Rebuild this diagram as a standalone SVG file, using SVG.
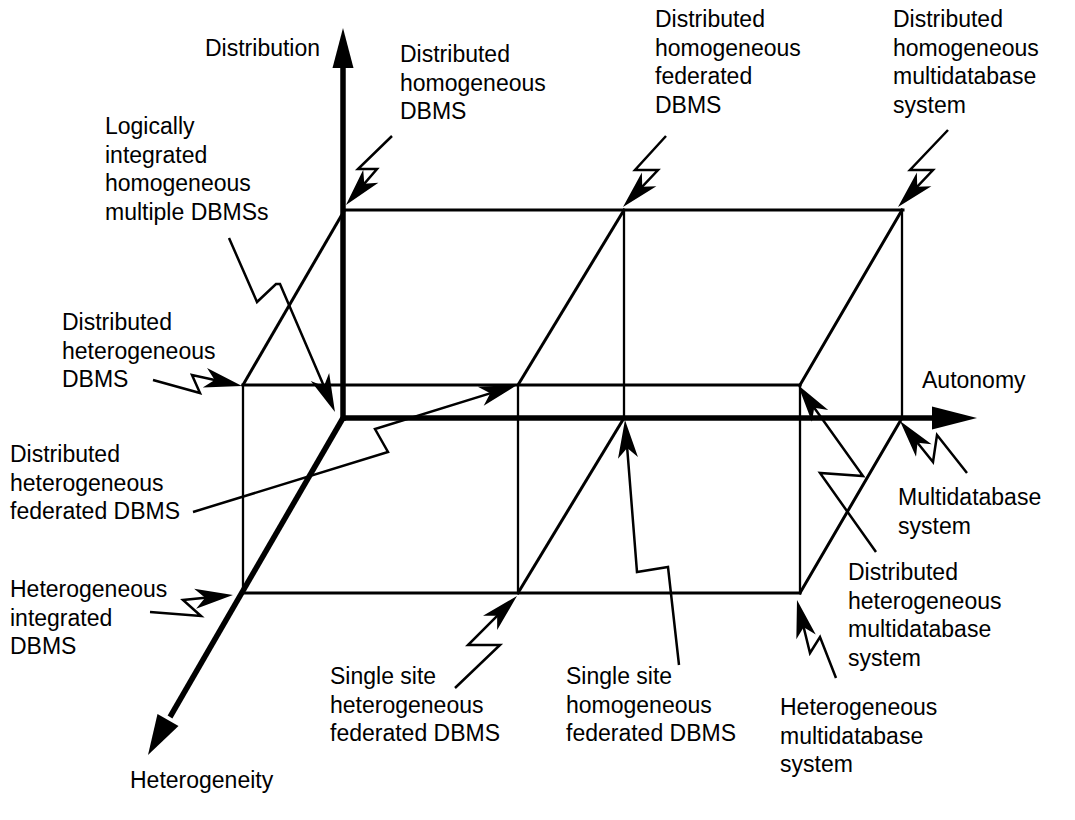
<svg xmlns="http://www.w3.org/2000/svg" width="1075" height="820" viewBox="0 0 1075 820">
<defs>
<style>
text{font-family:"Liberation Sans",Arial,Helvetica,sans-serif;font-size:23px;fill:#000}
.ax{stroke:#000;stroke-width:5.5;fill:none}
.bx{stroke:#000;stroke-width:3;fill:none;stroke-linecap:square}
.vt{stroke:#000;stroke-width:2.3;fill:none}
.zz{stroke:#000;stroke-width:2.5;fill:none;stroke-linejoin:miter}
.head{fill:#000;stroke:none}
</style>
<marker id="ah" markerUnits="userSpaceOnUse" viewBox="-40 -12 42 24" markerWidth="42" markerHeight="24" refX="-8" refY="0" orient="auto" overflow="visible">
<path d="M0,0 L-38,-10 L-28,0 L-38,10 Z" fill="#000"/>
</marker>
</defs>
<rect width="1075" height="820" fill="#fff"/>

<g id="cube">
<line class="bx" x1="343" y1="210" x2="903" y2="210"/>
<line class="bx" x1="243" y1="385" x2="800" y2="385"/>
<line class="bx" x1="243" y1="593" x2="800" y2="593"/>
<line class="vt" x1="243" y1="385" x2="243" y2="593"/>
<line class="vt" x1="518" y1="385" x2="518" y2="593"/>
<line class="vt" x1="800" y1="385" x2="800" y2="593"/>
<line class="vt" x1="624" y1="210" x2="624" y2="418"/>
<line class="vt" x1="902" y1="210" x2="902" y2="418"/>
<line class="bx" x1="243" y1="385" x2="344" y2="211"/>
<line class="bx" x1="518" y1="385" x2="624" y2="210"/>
<line class="bx" x1="800" y1="385" x2="902" y2="210"/>
<line class="bx" x1="518" y1="593" x2="624" y2="418"/>
<line class="bx" x1="800" y1="593" x2="902" y2="418"/>
</g>

<g id="axes">
<line class="ax" x1="343" y1="421" x2="343" y2="66"/>
<polygon class="head" points="343,28 332.5,68 353.5,68"/>
<line class="ax" x1="341" y1="418" x2="934" y2="418"/>
<polygon class="head" points="977,418 932,406.5 932,429.5"/>
<line class="ax" x1="343" y1="418" x2="170" y2="717"/>
<polygon class="head" points="148,755 178.5,726 157.5,714"/>
</g>

<g id="connectors">
<polyline class="zz" marker-end="url(#ah)" points="392,136 358,169 377,169 351.2,198.9"/>
<polyline class="zz" marker-end="url(#ah)" points="666,136 635,170 658,170 628.5,201.2"/>
<polyline class="zz" marker-end="url(#ah)" points="948,130 910,170 933,170 903.5,201.2"/>
<polyline class="zz" marker-end="url(#ah)" points="229,238 257,302 276,284 280,284 331.8,404.6"/>
<polyline class="zz" marker-end="url(#ah)" points="153,380 200,393 192,375 234.2,384.3"/>
<polyline class="zz" marker-end="url(#ah)" points="193,512 388,452 375,429 509.4,387.4"/>
<polyline class="zz" marker-end="url(#ah)" points="150,612 201,616 183,600 225,595.8"/>
<polyline class="zz" marker-end="url(#ah)" points="455,688 500,645 468,645 511.3,601.7"/>
<polyline class="zz" marker-end="url(#ah)" points="679,665 668,567 637,572 625.6,428"/>
<polyline class="zz" marker-end="url(#ah)" points="876,552 820,473 863,476 802.6,391.5"/>
<polyline class="zz" marker-end="url(#ah)" points="967,473 937,435 933,462 905,427.2"/>
<polyline class="zz" marker-end="url(#ah)" points="836,678 820,637 810,653 798.9,607.8"/>
</g>

<g id="label-distribution"><text x="205" y="56">Distribution</text></g>
<g id="label-autonomy"><text x="922" y="388">Autonomy</text></g>
<g id="label-heterogeneity"><text x="130" y="788">Heterogeneity</text></g>

<g id="node-dist-homog-dbms"><text x="400" y="62">Distributed</text><text x="400" y="90.5">homogeneous</text><text x="400" y="119">DBMS</text></g>
<g id="node-dist-homog-fed"><text x="655" y="27">Distributed</text><text x="655" y="55.5">homogeneous</text><text x="655" y="84">federated</text><text x="655" y="112.5">DBMS</text></g>
<g id="node-dist-homog-mdbs"><text x="893" y="27">Distributed</text><text x="893" y="55.5">homogeneous</text><text x="893" y="84">multidatabase</text><text x="893" y="112.5">system</text></g>
<g id="node-logically"><text x="105" y="134">Logically</text><text x="105" y="162.5">integrated</text><text x="105" y="191">homogeneous</text><text x="105" y="219.5">multiple DBMSs</text></g>
<g id="node-dist-het-dbms"><text x="62" y="330">Distributed</text><text x="62" y="358.5">heterogeneous</text><text x="62" y="387">DBMS</text></g>
<g id="node-dist-het-fed"><text x="10" y="462">Distributed</text><text x="10" y="490.5">heterogeneous</text><text x="10" y="519">federated DBMS</text></g>
<g id="node-het-integrated"><text x="10" y="597">Heterogeneous</text><text x="10" y="625.5">integrated</text><text x="10" y="654">DBMS</text></g>
<g id="node-mdbs"><text x="898" y="505">Multidatabase</text><text x="898" y="533.5">system</text></g>
<g id="node-dist-het-mdbs"><text x="848" y="580">Distributed</text><text x="848" y="608.5">heterogeneous</text><text x="848" y="637">multidatabase</text><text x="848" y="665.5">system</text></g>
<g id="node-single-het-fed"><text x="330" y="684">Single site</text><text x="330" y="712.5">heterogeneous</text><text x="330" y="741">federated DBMS</text></g>
<g id="node-single-homog-fed"><text x="566" y="684">Single site</text><text x="566" y="712.5">homogeneous</text><text x="566" y="741">federated DBMS</text></g>
<g id="node-het-mdbs"><text x="780" y="715">Heterogeneous</text><text x="780" y="743.5">multidatabase</text><text x="780" y="772">system</text></g>
</svg>
